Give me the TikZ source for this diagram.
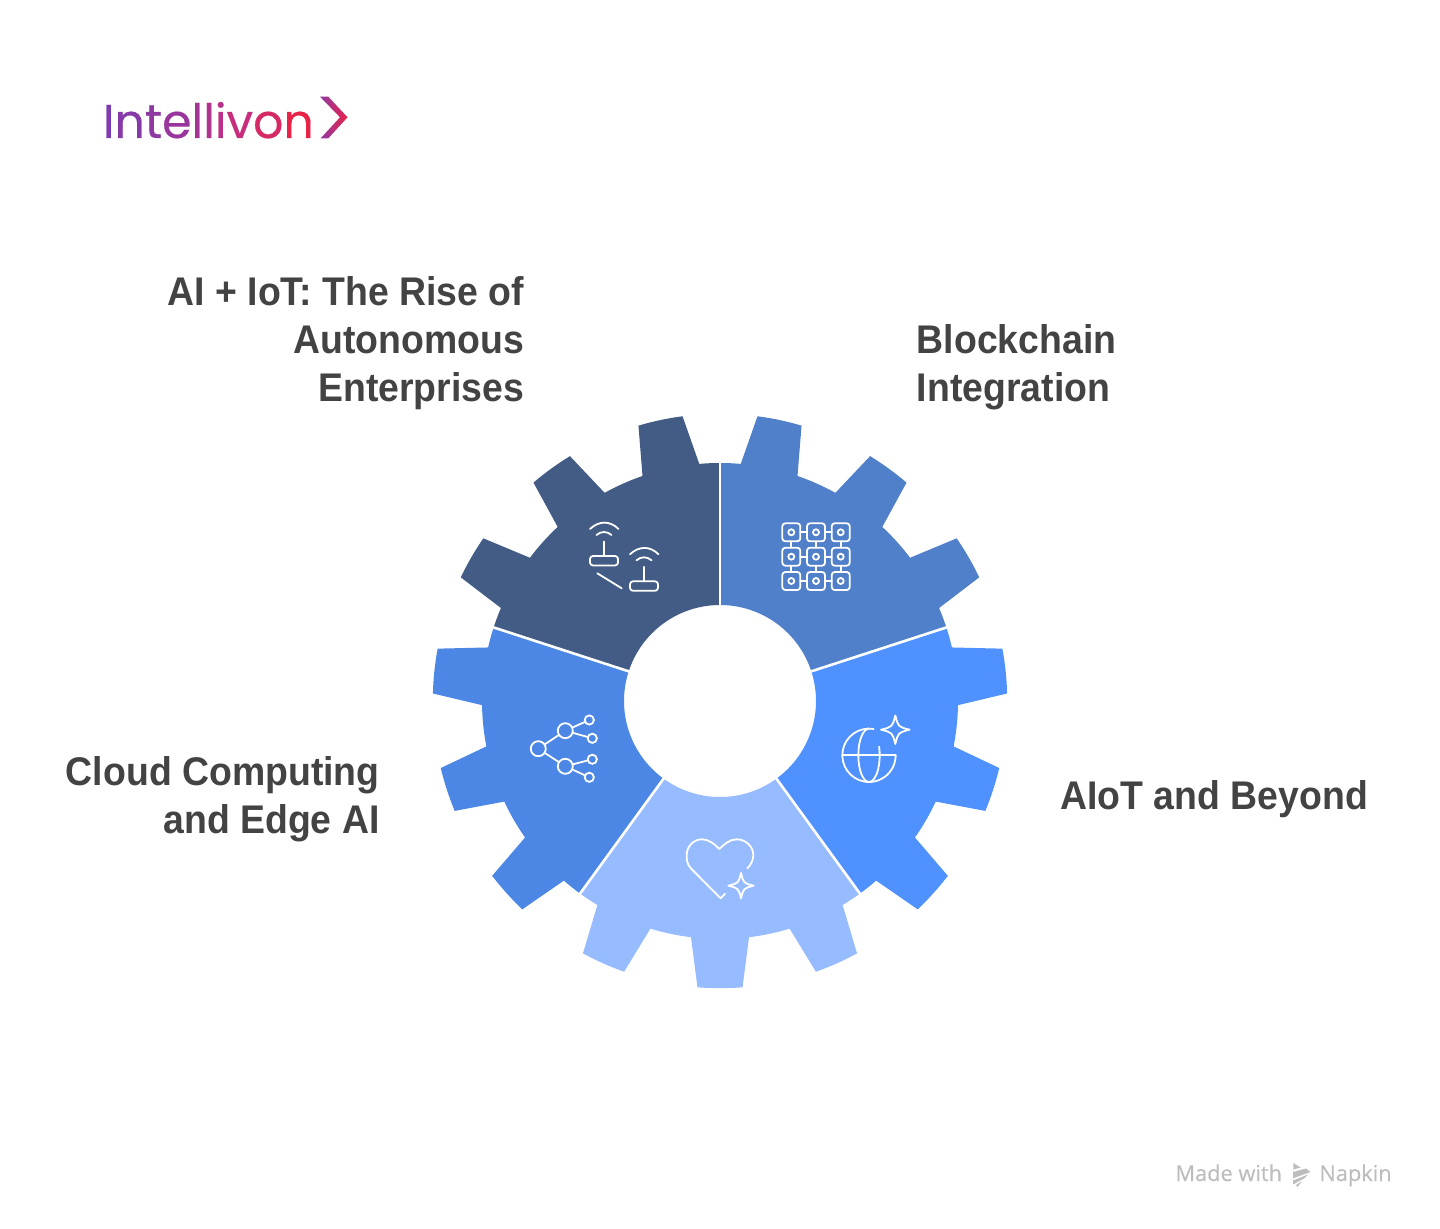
\documentclass[tikz,border=0pt]{standalone}
\usepackage{fontspec}
\setmainfont[FakeStretch=0.935]{Liberation Sans}
\newfontfamily\logofont[FakeBold=0.4]{Poppins}
\newfontfamily\markfont[FakeBold=0.25]{Open Sans}
\usetikzlibrary{calc}
\definecolor{segdark}{HTML}{425C85}
\definecolor{segblock}{HTML}{5080CA}
\definecolor{segaiot}{HTML}{4E91FF}
\definecolor{seglight}{HTML}{97BBFF}
\definecolor{segcloud}{HTML}{4C87E6}
\definecolor{labelgray}{HTML}{434343}
\definecolor{markgray}{HTML}{BDBDBD}
\definecolor{chevleft}{HTML}{8F39A3}
\definecolor{chevright}{HTML}{E92348}
\tikzset{
  label text/.style={text=labelgray,font=\bfseries\fontsize{20}{24}\selectfont,inner sep=0pt},
  icon line/.style={draw=white,line width=0.9pt,line cap=round,line join=round},
  hub/.style={circle,draw=white,line width=0.9pt,inner sep=0pt,minimum size=#1},
  gap line/.style={draw=white,line width=1.3pt}
}
% one gear segment: 72 degrees, three teeth, drawn upward from the hole
\newcommand{\gearseg}[2]{%
  \begin{scope}[shift={(720,701)},y=0.5pt,rotate=#1]
    \fill[#2] (90:96) -- (90:238)
      arc[start angle=90,end angle=95,radius=238] -- (97.5:287.2)
      arc[start angle=97.5,end angle=106.5,radius=287.2] -- (109:238)
      arc[start angle=109,end angle=119,radius=238] -- (121.5:287.2)
      arc[start angle=121.5,end angle=130.5,radius=287.2] -- (133:238)
      arc[start angle=133,end angle=143,radius=238] -- (145.5:287.2)
      arc[start angle=145.5,end angle=154.5,radius=287.2] -- (157:238)
      arc[start angle=157,end angle=162,radius=238] -- (162:96)
      arc[start angle=162,end angle=90,radius=96] -- cycle;
  \end{scope}}
\newcommand{\gapline}[1]{%
  \begin{scope}[shift={(720,701)},y=0.5pt,rotate=#1]
    \draw[gap line] (90:95) -- (90:239);
  \end{scope}}
\newcommand{\sparkle}[3]{%
  \draw[icon line] ($(#1,#2)+(0,-#3)$)
    .. controls ($(#1,#2)+(0.2*#3,-0.2*#3)$) .. ($(#1,#2)+(#3,0)$)
    .. controls ($(#1,#2)+(0.2*#3,0.2*#3)$) .. ($(#1,#2)+(0,#3)$)
    .. controls ($(#1,#2)+(-0.2*#3,0.2*#3)$) .. ($(#1,#2)+(-#3,0)$)
    .. controls ($(#1,#2)+(-0.2*#3,-0.2*#3)$) .. cycle;}
\newcommand{\routericon}[2]{%
  \begin{scope}[shift={(#1,#2)}]
    \draw[icon line,rounded corners=1.5pt] (-14,0) rectangle (14,9.5);
    \draw[icon line] (0,0) -- (0,-14.5);
    \draw[icon line] (-14,-27) .. controls (-5,-35.5) and (6,-35.5) .. (14.5,-27);
    \draw[icon line] (-7.5,-21) .. controls (-3,-25) and (3,-25) .. (7.5,-21);
  \end{scope}}
\begin{document}
\begin{tikzpicture}[x=0.5pt,y=-0.5pt]
\useasboundingbox (0,0) rectangle (1440,1229);
\fill[white] (0,0) rectangle (1440,1229);

% gear
\gearseg{0}{segdark}
\gearseg{-72}{segblock}
\gearseg{-144}{segaiot}
\gearseg{-216}{seglight}
\gearseg{-288}{segcloud}
\foreach \a in {0,72,144,216,288} {\gapline{\a}}

% labels
\node[label text,anchor=north east,align=right] (lead) at (524.5,276) {AI + IoT: The Rise of\\Autonomous\\Enterprises};
\node[label text,anchor=north west,align=left] (block) at (916.5,324.5) {Blockchain\\Integration};
\node[label text,anchor=north west,align=left] (aiot) at (1060,780) {AIoT and Beyond};
\node[label text,anchor=north east,align=right] (cloud) at (380,756) {Cloud Computing\\and Edge AI};

% logo
\node[inner sep=0pt,anchor=base west,font=\logofont\fontsize{23.7}{28}\selectfont] (logo) at (102.5,138)
  {\textcolor[HTML]{7F3AAE}{I}\textcolor[HTML]{863AA9}{n}\textcolor[HTML]{8F39A3}{t}\textcolor[HTML]{99369D}{e}\textcolor[HTML]{A53595}{l}\textcolor[HTML]{AF338F}{l}\textcolor[HTML]{B9318A}{i}\textcolor[HTML]{C72D7A}{v}\textcolor[HTML]{D62A66}{o}\textcolor[HTML]{E92348}{n}};
\shade[left color=chevleft,right color=chevright] (320,96.7) -- (328.3,96.7) -- (347.5,117.3) -- (328.3,138.3) -- (320.7,138.3) -- (340,117.3) -- cycle;

% router icon
\routericon{604}{556}
\routericon{644}{581.3}
\draw[icon line] (597.3,573.3) -- (621.7,588.3);

% grid icon
\foreach \y [count=\j] in {532.3,556.7,581} {
  \foreach \x [count=\i] in {791.3,816,840.7} {
    \draw[icon line,rounded corners=1.5pt] (\x-9,\y-9) rectangle (\x+9,\y+9);
    \draw[icon line] (\x,\y) circle[radius=3];
  }
  \draw[icon line] (800.3,\y) -- (807,\y) (825,\y) -- (831.7,\y);
}
\foreach \x in {791.3,816,840.7} {
  \draw[icon line] (\x,541.3) -- (\x,547.7) (\x,565.7) -- (\x,572);
}

% network icon
\node[hub=7.5pt] (n0) at (538.3,748.7) {};
\node[hub=7.5pt] (n1) at (565.3,730.7) {};
\node[hub=7.5pt] (n2) at (565.3,766.3) {};
\node[hub=4.6pt] (n3) at (589.3,720) {};
\node[hub=4.6pt] (n4) at (592.3,738.3) {};
\node[hub=4.6pt] (n5) at (592.3,759.3) {};
\node[hub=4.6pt] (n6) at (589.3,777.3) {};
\draw[icon line] (n0) -- (n1);
\draw[icon line] (n0) -- (n2);
\draw[icon line] (n1) -- (n3);
\draw[icon line] (n1) -- (n4);
\draw[icon line] (n2) -- (n5);
\draw[icon line] (n2) -- (n6);

% globe icon
\begin{scope}[shift={(869,755.3)},y=0.5pt]
  \draw[icon line] (80:26.7) arc[start angle=80,end angle=360,radius=26.7];
  \draw[icon line] (-26.7,0) -- (26.7,0);
  \draw[icon line] (0,26.7) arc[start angle=90,end angle=270,x radius=10.7,y radius=26.7];
  \draw[icon line] (0,-26.7) arc[start angle=270,end angle=379,x radius=10.7,y radius=26.7];
\end{scope}
\sparkle{895.3}{729.7}{14.3}

% heart icon
\draw[icon line] (725,893.7) -- (720.7,898.3) -- (691.5,869)
  .. controls (686,863.5) and (686.7,858) .. (686.7,855)
  .. controls (686.7,846) and (694,839.3) .. (702,839.3)
  .. controls (709,839.3) and (715,844.5) .. (719.3,849)
  .. controls (724,844.5) and (729.5,839.3) .. (736.7,839.3)
  .. controls (745,839.3) and (753.3,846) .. (753.3,855)
  .. controls (753.3,860) and (751,865) .. (747.3,868.3);
\sparkle{741}{885.7}{12.7}

% made with
\node[inner sep=0pt,anchor=base west,text=markgray,font=\markfont\fontsize{10.9}{13}\selectfont] (made) at (1175,1181) {Made with};
\node[inner sep=0pt,anchor=base west,text=markgray,font=\markfont\fontsize{10.9}{13}\selectfont] (napkin) at (1319,1181) {Napkin};
\fill[markgray] (1293.3,1163) -- (1300.5,1167.5) -- (1293.3,1169.5) -- cycle;
\fill[markgray] (1293,1172) -- (1306,1168.5) -- (1310.5,1172) -- (1293,1178.3) -- cycle;
\fill[markgray] (1293,1180.5) -- (1308,1174.5) -- (1304,1178.5) -- (1293,1184.5) -- cycle;
\fill[markgray] (1296,1185) -- (1302,1181) -- (1297.5,1187) -- cycle;
\end{tikzpicture}
\end{document}
